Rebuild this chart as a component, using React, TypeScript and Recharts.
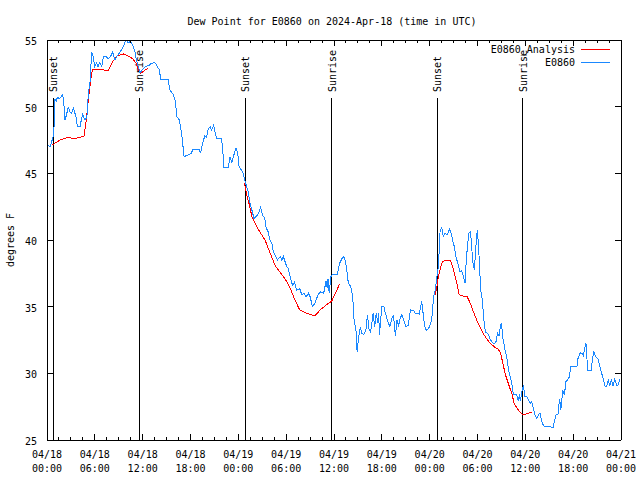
import React from 'react';
import { LineChart, Line, XAxis, YAxis, ReferenceLine, Legend } from 'recharts';

const titleText = 'Dew Point for E0860 on 2024-Apr-18 (time in UTC)';
const yAxisTitle = 'degrees F';
const obsName = 'E0860';
const anaName = 'E0860_Analysis';
const legendOrder = [anaName, obsName];

// hours since 04/18 00:00 UTC
const obsHours = [
  0.15, 0.4, 0.7, 0.85, 1.0, 1.15, 1.3, 1.6, 1.97, 2.1, 2.26, 2.45, 2.67, 2.85, 3.1, 3.3, 3.64, 3.8, 4.15, 4.3,
  4.47, 4.77, 5.0, 5.19, 5.4, 5.6, 5.75, 6.0, 6.2, 6.4, 6.6, 6.86, 7.07, 7.3, 7.7, 8.0, 8.24, 8.53, 8.8, 9.16,
  9.57, 9.9, 10.2, 10.5, 10.75, 11.04, 11.2, 11.46, 11.67, 11.9, 12.3, 12.8, 13.1, 13.55, 13.85, 14.1, 14.26, 15.2, 15.4, 15.85,
  16.1, 16.3, 16.6, 16.9, 17.2, 18.1, 18.3, 19.1, 19.25, 19.5, 19.8, 20.0, 20.2, 20.45, 20.65, 20.9, 21.1, 21.3, 21.85, 22.0,
  22.2, 22.75, 22.96, 23.2, 23.4, 23.7, 23.9, 24.1, 24.55, 24.84, 25.05, 25.25, 25.47, 25.7, 25.97, 26.3, 26.6, 26.8, 27.06, 27.3,
  27.5, 27.75, 28.0, 28.2, 28.4, 28.7, 28.9, 29.25, 29.45, 29.65, 29.85, 30.07, 30.25, 30.5, 30.8, 31.05, 31.3, 31.7, 31.95, 32.25,
  32.5, 32.8, 33.0, 33.3, 33.6, 34.0, 34.3, 34.7, 35.0, 35.15, 35.25, 35.4, 35.6, 35.8, 36.4, 36.7, 37.0, 37.2, 37.4, 37.6,
  37.8, 38.1, 38.35, 38.5, 38.8, 38.9, 39.05, 39.3, 39.5, 39.7, 40.0, 40.2, 40.4, 40.6, 40.9, 41.1, 41.3, 41.5, 41.6, 41.7,
  42.0, 42.25, 42.45, 42.7, 43.0, 43.2, 43.45, 43.7, 43.9, 44.1, 44.3, 44.5, 44.75, 45.0, 45.3, 45.6, 46.0, 46.2, 46.7, 47.0,
  47.1, 47.35, 47.6, 47.9, 48.25, 48.5, 48.7, 48.9, 49.1, 49.3, 49.5, 49.7, 49.9, 50.2, 50.5, 50.7, 50.9, 51.1, 51.3, 51.6,
  51.8, 52.0, 52.2, 52.45, 52.6, 52.9, 53.1, 53.2, 53.4, 53.6, 53.75, 53.9, 54.0, 54.2, 54.4, 54.6, 54.8, 55.0, 55.3, 55.6,
  55.9, 56.1, 56.35, 56.5, 56.7, 56.9, 57.0, 57.2, 57.45, 57.7, 57.9, 58.1, 58.3, 58.5, 58.9, 59.1, 59.25, 59.4, 59.5, 59.75,
  59.95, 60.2, 60.4, 60.6, 60.8, 61.0, 61.2, 61.45, 61.65, 61.85, 62.06, 62.3, 62.9, 63.5, 63.7, 63.9, 64.1, 64.3, 64.45, 64.7,
  64.9, 65.1, 65.3, 65.5, 65.7, 66.5, 66.6, 66.9, 67.1, 67.3, 67.4, 67.6, 67.7, 67.8, 68.3, 68.4, 68.6, 68.8, 69.15, 69.4,
  69.6, 69.8, 70.0, 70.2, 70.4, 70.6, 70.8, 71.0, 71.2, 71.5, 71.7, 71.8,
];
const obsDewPoint = [
  47.1, 47.0, 47.6, 48.0, 50.6, 50.4, 50.7, 50.6, 50.9, 50.3, 49.0, 49.4, 50.0, 49.6, 49.5, 49.9, 49.25, 48.5, 48.5, 49.0,
  49.4, 49.0, 49.2, 51.0, 51.9, 54.1, 53.9, 53.0, 53.3, 53.0, 53.3, 53.0, 53.75, 53.8, 53.6, 53.8, 54.1, 53.5, 53.8, 54.1,
  54.5, 55.0, 54.8, 54.9, 54.6, 54.1, 53.5, 53.0, 52.5, 52.75, 53.0, 53.1, 53.25, 53.3, 53.0, 52.75, 52.05, 52.05, 51.25, 50.9,
  50.4, 49.25, 49.0, 47.9, 46.25, 46.5, 46.8, 46.8, 46.5, 47.25, 47.8, 47.7, 48.25, 48.5, 48.25, 48.6, 48.0, 47.6, 47.6, 47.1,
  45.45, 45.45, 46.25, 45.8, 46.3, 46.9, 46.6, 45.5, 45.1, 44.4, 44.0, 43.6, 42.75, 42.25, 41.6, 41.8, 42.1, 42.45, 41.8, 41.7,
  40.9, 40.6, 39.9, 39.8, 39.1, 38.75, 38.5, 38.75, 38.5, 38.75, 38.4, 38.0, 37.9, 37.25, 36.6, 36.85, 36.25, 36.35, 35.9, 36.0,
  35.75, 36.0, 35.75, 35.0, 35.25, 35.9, 36.1, 36.0, 36.9, 36.4, 37.1, 36.0, 37.25, 37.4, 37.4, 38.25, 38.6, 38.75, 38.5, 37.75,
  36.75, 36.5, 35.75, 34.1, 33.0, 31.6, 32.5, 33.5, 33.0, 32.9, 33.25, 34.4, 33.3, 33.1, 34.5, 33.5, 34.5, 33.8, 34.5, 32.9,
  35.0, 35.0, 34.5, 34.0, 33.5, 34.0, 34.4, 32.8, 34.0, 33.6, 34.1, 34.4, 34.0, 33.5, 33.6, 34.75, 34.7, 34.5, 34.45, 35.4,
  34.9, 33.6, 33.2, 33.4, 34.0, 35.75, 36.25, 37.25, 38.0, 40.6, 41.0, 40.25, 40.5, 40.4, 40.8, 40.5, 39.9, 39.5, 38.75, 38.1,
  37.6, 37.7, 37.35, 36.75, 38.6, 40.5, 40.6, 40.1, 38.4, 37.75, 39.0, 40.4, 40.75, 38.75, 36.25, 35.5, 34.0, 33.1, 33.0, 32.55,
  32.3, 32.2, 32.4, 33.05, 32.8, 33.6, 33.8, 32.6, 31.75, 31.1, 30.25, 29.75, 29.25, 28.4, 28.4, 28.0, 28.3, 27.9, 28.5, 29.1,
  28.25, 28.25, 28.0, 27.75, 27.9, 27.4, 26.9, 26.6, 26.9, 27.0, 26.4, 26.05, 26.0, 25.95, 26.55, 26.95, 26.95, 28.1, 27.25, 28.75,
  28.4, 29.4, 29.5, 29.7, 30.5, 30.55, 31.1, 31.55, 31.5, 31.3, 31.8, 32.25, 31.5, 30.25, 30.25, 31.1, 31.6, 31.25, 31.05, 30.35,
  29.95, 29.5, 29.05, 29.05, 29.5, 29.05, 29.55, 29.05, 29.55, 29.05, 29.15, 29.6,
];

const anaHours = [
  0.58, 1.63, 2.67, 3.3, 4.14, 4.64, 4.9, 5.3, 5.6, 5.73, 6.65, 7.7, 8.1, 8.74, 9.6, 10.2, 10.75, 11.2, 11.46, 11.75,
  12.2, 12.7, 18.0,
  24.76, 25.05, 25.4, 25.7, 26.1, 26.7, 27.35, 28.0, 28.6, 29.2, 29.85, 30.5, 31.1, 31.7, 32.6, 33.6, 34.25, 35.3,
  35.7, 36.1, 36.7, 42.0,
  48.7, 48.9, 49.1, 49.3, 49.6, 49.9, 50.6, 50.9, 51.2, 51.5, 51.7, 52.2, 52.7, 53.1, 53.5, 53.9, 54.3, 54.7, 55.15, 55.6,
  56.2, 56.6, 56.9, 57.2, 57.5, 58.0, 58.3, 58.6, 58.9, 59.2, 59.7, 60.0, 60.25, 60.8,
];
const anaDewPoint: (number | null)[] = [
  47.1, 47.5, 47.7, 47.6, 47.7, 47.8, 48.9, 51.1, 52.5, 52.8, 52.8, 52.7, 53.25, 53.8, 53.95, 53.8, 53.6, 53.25, 52.75, 52.5,
  52.7, 52.9, null,
  44.25, 43.4, 42.6, 41.75, 41.25, 40.6, 40.0, 39.0, 38.1, 37.6, 37.1, 36.4, 35.5, 34.75, 34.5, 34.3, 34.75, 35.25,
  35.4, 35.9, 36.7, null,
  35.9, 36.5, 37.25, 37.75, 38.4, 38.45, 38.45, 38.0, 37.25, 36.5, 35.9, 35.8, 35.75, 35.25, 34.6, 34.0, 33.5, 33.0, 32.6, 32.25,
  31.95, 31.8, 31.5, 30.7, 29.9, 29.0, 28.5, 27.75, 27.45, 27.2, 26.9, 26.9, 27.0, 27.05,
];

const eventHours = [0.79, 11.58, 24.88, 35.71, 48.96, 59.65];
const eventLabels = ['Sunset', 'Sunrise', 'Sunset', 'Sunrise', 'Sunset', 'Sunrise'];
const eventLineTop = 50.65;

const majorTickHours = [0, 6, 12, 18, 24, 30, 36, 42, 48, 54, 60, 66, 72];
const tickDates = ['04/18', '04/18', '04/18', '04/18', '04/19', '04/19', '04/19', '04/19', '04/20', '04/20', '04/20', '04/20', '04/21'];
const tickTimes = ['00:00', '06:00', '12:00', '18:00', '00:00', '06:00', '12:00', '18:00', '00:00', '06:00', '12:00', '18:00', '00:00'];
const yTicks = [25, 30, 35, 40, 45, 50, 55];

const allXTicks = majorTickHours
  .flatMap((h) => [h, h + 1.5, h + 3, h + 4.5])
  .filter((h) => h <= 72);

const obsData = obsHours.map((h, i) => ({ hour: h, dew: obsDewPoint[i] }));
const anaData = anaHours.map((h, i) => ({ hour: h, dew: anaDewPoint[i] }));

const FONT = 'DejaVu Sans Mono';
const RED = '#ff0000';
const BLUE = '#1a88ff';

const BottomTick = (props: any) => {
  const { x, y, payload } = props;
  const i = majorTickHours.indexOf(payload.value);
  const major = i >= 0;
  return (
    <g>
      <line x1={x} x2={x} y1={y} y2={y - (major ? 6 : 3)} stroke="#000" />
      {major && (
        <text x={x} y={y + 18} textAnchor="middle" fontFamily={FONT} fontSize={10} fill="#000">
          {tickDates[i]}
        </text>
      )}
      {major && (
        <text x={x} y={y + 32} textAnchor="middle" fontFamily={FONT} fontSize={10} fill="#000">
          {tickTimes[i]}
        </text>
      )}
    </g>
  );
};

const TopTick = (props: any) => {
  const { x, y, payload } = props;
  const major = majorTickHours.indexOf(payload.value) >= 0;
  return <line x1={x} x2={x} y1={y} y2={y + (major ? 6 : 3)} stroke="#000" />;
};

const LeftTick = (props: any) => {
  const { x, y, payload } = props;
  return (
    <g>
      <line x1={x} x2={x + 6} y1={y} y2={y} stroke="#000" />
      <text x={x - 10} y={y + 5} textAnchor="end" fontFamily={FONT} fontSize={10} fill="#000">
        {payload.value}
      </text>
    </g>
  );
};

const RightTick = (props: any) => {
  const { x, y } = props;
  return <line x1={x} x2={x - 6} y1={y} y2={y} stroke="#000" />;
};

const renderTitle = () => (
  <text x={332} y={25} textAnchor="middle" fontFamily={FONT} fontSize={10} fill="#000">
    {titleText}
  </text>
);

const renderYTitle = () => (
  <text
    x={14}
    y={240}
    textAnchor="middle"
    transform="rotate(-90, 14, 240)"
    fontFamily={FONT}
    fontSize={10}
    fill="#000"
  >
    {yAxisTitle}
  </text>
);

const makeEventLabel = (text: string) => (props: any) => {
  const vb = props.viewBox || {};
  const x = (vb.x ?? 0) + 4;
  const y = (vb.y ?? 98) - 6;
  return (
    <text
      x={x}
      y={y}
      textAnchor="start"
      transform={`rotate(-90, ${x}, ${y})`}
      fontFamily={FONT}
      fontSize={10}
      fill="#000"
    >
      {text}
    </text>
  );
};

const renderLegend = (props: any) => {
  const items = [...(props.payload || [])].sort(
    (a: any, b: any) => legendOrder.indexOf(a.value) - legendOrder.indexOf(b.value)
  );
  return (
    <svg
      width={640}
      height={80}
      style={{ position: 'absolute', left: 0, top: 0, overflow: 'visible', pointerEvents: 'none', shapeRendering: 'crispEdges' }}
    >
      {items.map((it: any, i: number) => (
        <g key={i}>
          <text x={575} y={53 + i * 13} textAnchor="end" fontFamily={FONT} fontSize={10} fill="#000">
            {it.value}
          </text>
          <line x1={581} x2={610} y1={49 + i * 13} y2={49 + i * 13} stroke={it.color} strokeWidth={1} />
        </g>
      ))}
    </svg>
  );
};

export default function App() {
  return (
    <div style={{ position: 'absolute', left: 0, top: 0, width: 640, height: 480, background: '#fff', shapeRendering: 'crispEdges' }}>
      <LineChart width={640} height={480} margin={{ top: 0, right: 0, bottom: 0, left: 7 }}>
        <XAxis
          xAxisId="bottom"
          dataKey="hour"
          type="number"
          domain={[0, 72]}
          ticks={allXTicks}
          interval={0}
          orientation="bottom"
          height={40}
          tickSize={0}
          tickMargin={0}
          tickLine={false}
          axisLine={{ stroke: '#000' }}
          tick={<BottomTick />}
          allowDataOverflow
        />
        <XAxis
          xAxisId="top"
          dataKey="hour"
          type="number"
          domain={[0, 72]}
          ticks={allXTicks}
          interval={0}
          orientation="top"
          height={40}
          tickSize={0}
          tickMargin={0}
          tickLine={false}
          axisLine={{ stroke: '#000' }}
          tick={<TopTick />}
          label={{ content: renderTitle }}
          allowDataOverflow
        />
        <YAxis
          yAxisId="left"
          type="number"
          domain={[25, 55]}
          ticks={yTicks}
          interval={0}
          orientation="left"
          width={40}
          tickSize={0}
          tickMargin={0}
          tickLine={false}
          axisLine={{ stroke: '#000' }}
          tick={<LeftTick />}
          label={{ content: renderYTitle }}
          allowDataOverflow
        />
        <YAxis
          yAxisId="right"
          type="number"
          domain={[25, 55]}
          ticks={yTicks}
          interval={0}
          orientation="right"
          width={19}
          tickSize={0}
          tickMargin={0}
          tickLine={false}
          axisLine={{ stroke: '#000' }}
          tick={<RightTick />}
          allowDataOverflow
        />
        {eventHours.map((h, i) => (
          <ReferenceLine
            key={`ev-${i}`}
            xAxisId="bottom"
            yAxisId="left"
            segment={[
              { x: h, y: eventLineTop },
              { x: h, y: 25 },
            ]}
            stroke="#000"
            strokeWidth={1}
            label={makeEventLabel(eventLabels[i])}
          />
        ))}
        <Line
          xAxisId="bottom"
          yAxisId="left"
          data={anaData}
          dataKey="dew"
          name={anaName}
          stroke={RED}
          strokeWidth={1}
          dot={false}
          activeDot={false}
          type="linear"
          connectNulls={false}
          isAnimationActive={false}
        />
        <Line
          xAxisId="bottom"
          yAxisId="left"
          data={obsData}
          dataKey="dew"
          name={obsName}
          stroke={BLUE}
          strokeWidth={1}
          dot={false}
          activeDot={false}
          type="linear"
          isAnimationActive={false}
        />
        <Legend
          content={renderLegend}
          wrapperStyle={{ position: 'absolute', left: 0, top: 0, width: 0, height: 0, overflow: 'visible' }}
        />
      </LineChart>
    </div>
  );
}
